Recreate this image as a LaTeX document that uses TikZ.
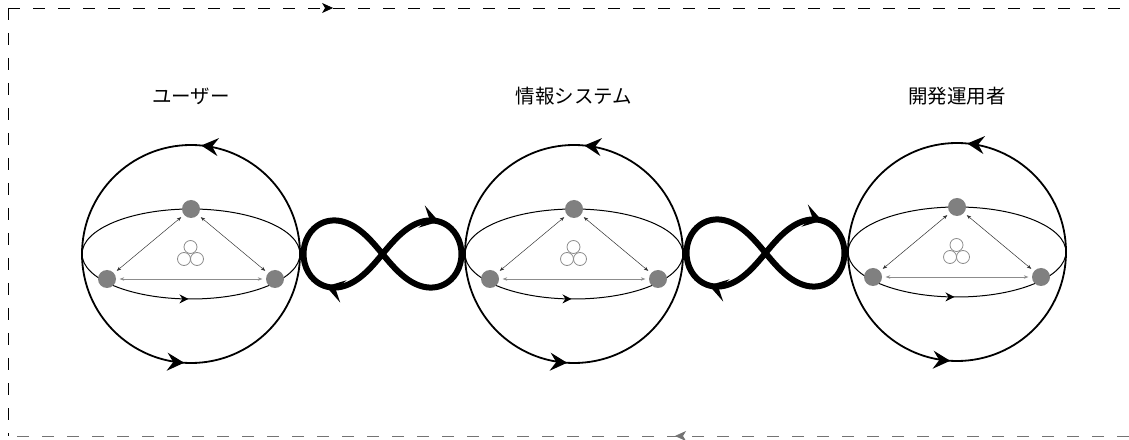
\documentclass[tikz,border=0pt]{standalone}
\usepackage{fontspec}
\newfontfamily\cjk{Noto Sans CJK JP}
\usetikzlibrary{arrows.meta,positioning,calc,decorations.markings}

\begin{document}
\begin{tikzpicture}[
        x=1pt, y=1pt,
        node distance=165pt,
        sphere/.style={circle, minimum size=218pt, inner sep=0pt, outer sep=0pt},
        title/.style={font=\cjk\fontsize{19.5}{22}\selectfont, inner sep=0pt},
        dot/.style={circle, fill=black!50, minimum size=18pt, inner sep=0pt},
        bub/.style={circle, draw=black!45, line width=0.8pt, minimum size=13pt, inner sep=0pt},
        link/.style={{Stealth[length=4.5pt,width=3.5pt]}-{Stealth[length=4.5pt,width=3.5pt]},
            line width=0.5pt, draw=black!80, shorten <=3.5pt, shorten >=3.5pt},
        ring/.style={line width=1.8pt, postaction={decorate}, decoration={markings,
            mark=at position 0.235 with {\arrow{Stealth[length=17pt,width=18pt,inset=6pt]}},
            mark=at position 0.74 with {\arrow{Stealth[length=17pt,width=18pt,inset=6pt]}}}},
        orbit/.style={line width=1pt, postaction={decorate}, decoration={markings,
            mark=at position 0.745 with {\arrow{Stealth[length=9pt,width=9pt,inset=3pt]}}}},
        infty/.style={line width=6pt, line join=round, postaction={decorate}, decoration={markings,
            mark=at position 0.095 with {\arrowreversed{Stealth[length=18pt,width=23pt,inset=8pt]}},
            mark=at position 0.405 with {\arrow{Stealth[length=18pt,width=23pt,inset=8pt]}}}},
        frame/.style={line width=0.8pt, dash pattern=on 12pt off 13pt},
        frame tip/.style={postaction={decorate}, decoration={markings,
            mark=at position #1 with {\arrow{Stealth[length=11pt,width=10pt,inset=3pt]}}}}
    ]
    \useasboundingbox (0,0) rectangle (1129,439);

    % outer loop
    \coordinate (tl) at (8,431);
    \coordinate (tr) at (1129,431);
    \coordinate (bl) at (8,3);
    \coordinate (br) at (1129,3);
    \draw[frame] (tl) -- (bl);
    \draw[frame, frame tip=0.29] (tl) -- (tr);
    \draw[frame, draw=black!55, frame tip=0.405] (br) -- (bl);

    % three spheres
    \node[sphere] (usr) at (191,185) {};
    \node[sphere, right=of usr] (sys) {};
    \node[sphere, right=of sys, yshift=2pt] (ops) {};
    \node[title, above=40pt of usr] (usr-name) {ユーザー};
    \node[title, above=40pt of sys] (sys-name) {情報システム};
    \node[title, above=38pt of ops] (ops-name) {開発運用者};

    \foreach \s in {usr,sys,ops} {
        \draw[ring] (\s.center) circle[radius=109pt];
        \draw[orbit] (\s.center) ellipse[x radius=109pt, y radius=45pt];
        \node[dot] (\s-t) at ($(\s.center)+(0,45)$) {};
        \node[dot] (\s-l) at ($(\s.center)+(-84,-25)$) {};
        \node[dot] (\s-r) at ($(\s.center)+(84,-25)$) {};
        \draw[link] (\s-t) -- (\s-l);
        \draw[link] (\s-t) -- (\s-r);
        \draw[link, draw=black!45] (\s-l) -- (\s-r);
        \node[bub] (\s-b1) at ($(\s.center)+(-0.5,7)$) {};
        \node[bub] (\s-b2) at ($(\s.center)+(-7,-5)$) {};
        \node[bub] (\s-b3) at ($(\s.center)+(6,-5)$) {};
    }

    % loops between the spheres
    \coordinate (inf1) at ($(usr.east)!0.5!(sys.west)$);
    \coordinate (inf2) at ($(sys.east)!0.5!(ops.west)$);
    \draw[infty, shift={(inf1)}] plot[domain=0:357, samples=120]
        ({79*cos(\x)/(1+(sin(\x))^2)}, {95*sin(\x)*cos(\x)/(1+(sin(\x))^2)}) -- cycle;
    \draw[infty, shift={(inf2)}] plot[domain=0:357, samples=120]
        ({79*cos(\x)/(1+(sin(\x))^2)}, {95*sin(\x)*cos(\x)/(1+(sin(\x))^2)}) -- cycle;
\end{tikzpicture}
\end{document}
